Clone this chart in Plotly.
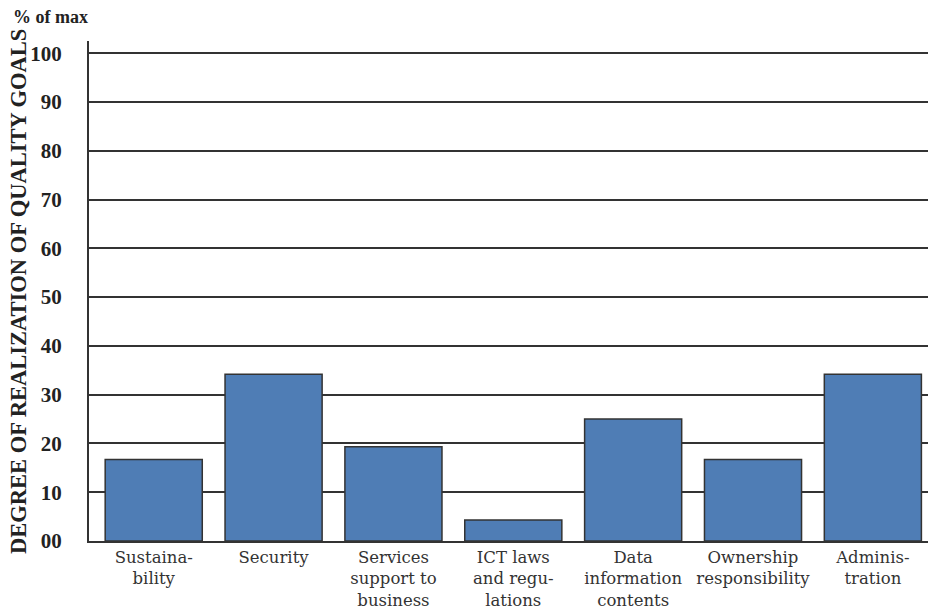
import plotly.graph_objects as go

categories = ["Sustaina-<br>bility", "Security", "Services<br>support to<br>business",
              "ICT laws<br>and regu-<br>lations", "Data<br>information<br>contents",
              "Ownership<br>responsibility", "Adminis-<br>tration"]
values = [16.7, 34.2, 19.3, 4.3, 25.0, 16.7, 34.2]
tick_vals = [0, 10, 20, 30, 40, 50, 60, 70, 80, 90, 100]
tick_text = ["00", "10", "20", "30", "40", "50", "60", "70", "80", "90", "100"]

fig = go.Figure(go.Bar(
    x=categories, y=values,
    marker=dict(color="#4F7DB5", line=dict(color="#333333", width=1.5)),
    width=0.81,
))

fig.update_layout(
    width=929, height=615,
    margin=dict(l=89, r=1, t=41, b=74, autoexpand=False),
    plot_bgcolor="white", paper_bgcolor="white",
    showlegend=False,
    xaxis=dict(showline=True, linecolor="#333333", linewidth=2, showgrid=False,
               automargin=False,
               tickfont=dict(family="DejaVu Serif", size=16.5, color="#333333"),
               ticks="", range=[-0.54, 6.46]),
    yaxis=dict(range=[0, 102.5], tickvals=tick_vals, ticktext=tick_text,
               automargin=False,
               showgrid=True, gridcolor="#333333", gridwidth=2,
               showline=True, linecolor="#333333", linewidth=2,
               zeroline=False, ticks="", ticklabelstandoff=21,
               tickfont=dict(family="Liberation Serif", size=21, color="#222222", weight="bold")),
    annotations=[
        dict(text="DEGREE OF REALIZATION OF QUALITY GOALS", textangle=-90,
             xref="paper", yref="paper", x=(18 - 89) / 839, y=0.498,
             xanchor="center", yanchor="middle", showarrow=False,
             font=dict(family="Liberation Serif", size=22.5, color="#222222", weight="bold")),
        dict(text="% of max", xref="paper", yref="paper",
             x=(11 - 89) / 839, y=(541 - 17) / 500, xanchor="left", yanchor="middle",
             showarrow=False,
             font=dict(family="Liberation Serif", size=18, color="#222222", weight="bold")),
    ],
)

fig.write_html("out.html", config={"displayModeBar": False},
               post_script="document.body.style.margin='0';")
